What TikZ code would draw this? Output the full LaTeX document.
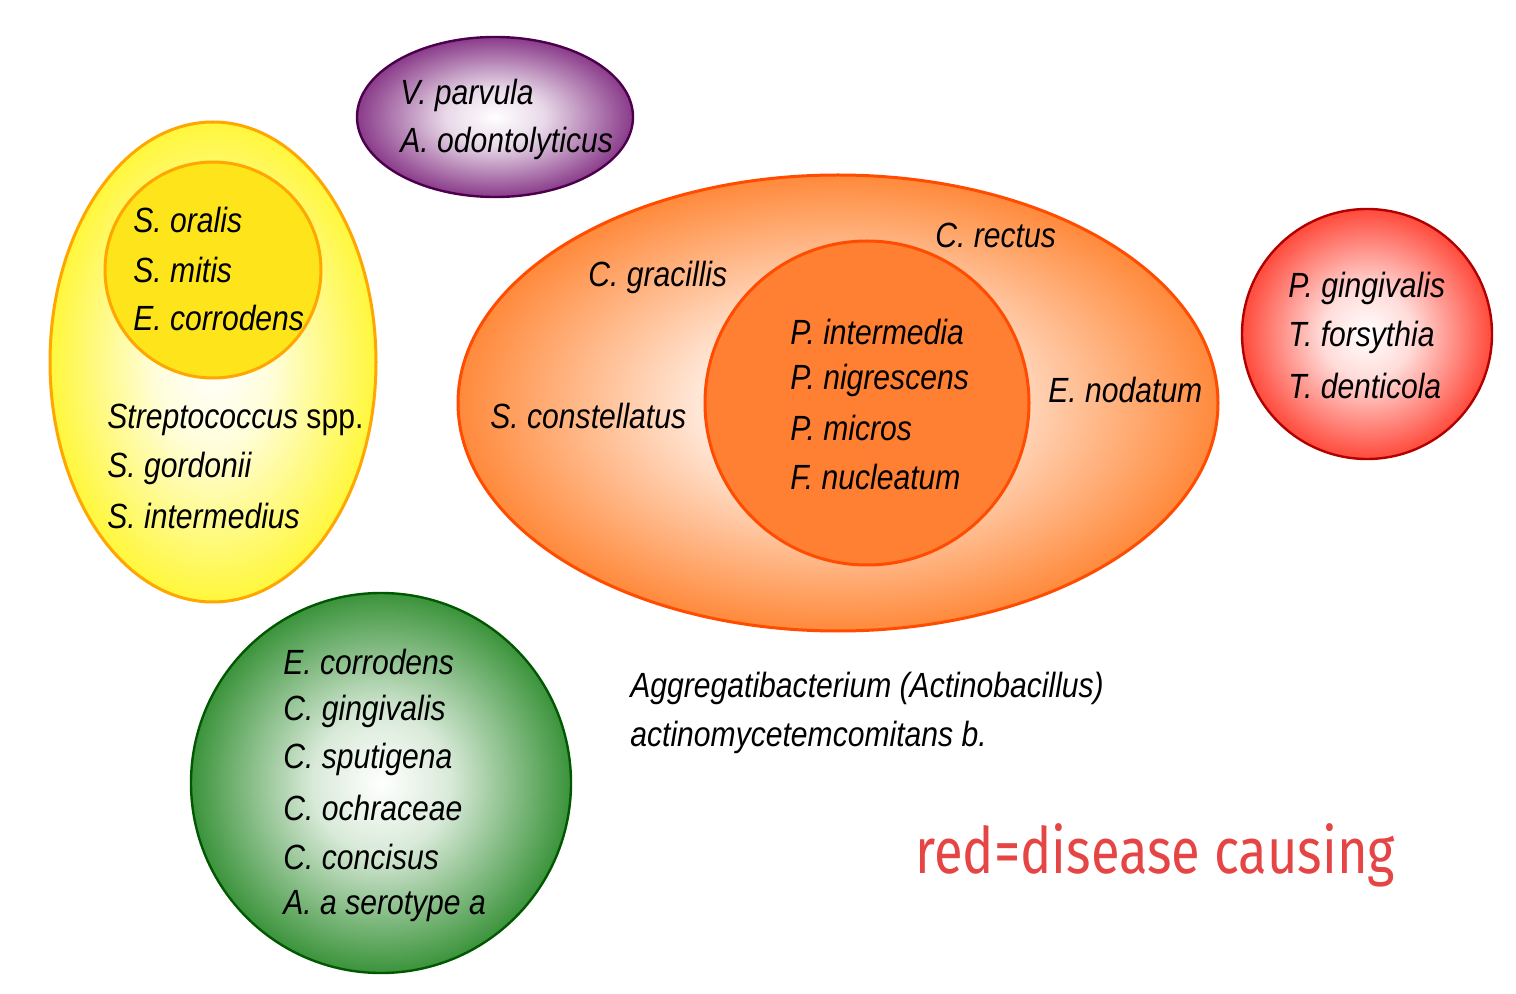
\documentclass[tikz,border=0pt]{standalone}
\usepackage{fontspec}
\setmainfont{Liberation Sans}
\newfontfamily\nar[FakeStretch=0.86]{Liberation Sans}
\newfontfamily\handfont[FakeStretch=0.82]{Fira Sans}
\pgfdeclareradialshading[sc]{soft}{\pgfpoint{0bp}{0bp}}{color(0bp)=(white); color(9bp)=(white!85!sc); color(31bp)=(sc); color(100bp)=(sc)}
\begin{document}
\begin{tikzpicture}[x=0.5pt,y=-0.5pt,
  t/.style={anchor=west,inner sep=0pt,font=\nar\fontsize{17.5}{20}\selectfont\itshape}]
\useasboundingbox (0,0) rectangle (1516,994);
\fill[white] (0,0) rectangle (1516,994);
% purple
\colorlet{sc}{violet!80!black}
\shade[shading=soft] (495,117) ellipse [x radius=138,y radius=80];
\draw[line width=1.2pt,violet!60!black] (495,117) ellipse [x radius=138,y radius=80];
% yellow
\colorlet{sc}{yellow!92!orange}
\shade[shading=soft] (213,362) ellipse [x radius=163,y radius=240];
\draw[line width=1.5pt,orange!70!yellow] (213,362) ellipse [x radius=163,y radius=240];
\fill[yellow!85!orange!90] (213,270) circle [radius=108];
\draw[line width=1.5pt,orange!70!yellow] (213,270) circle [radius=108];
% orange
\colorlet{sc}{orange!80!red}
\shade[shading=soft] (838,403) ellipse [x radius=380,y radius=228];
\draw[line width=1.5pt,orange!60!red] (838,403) ellipse [x radius=380,y radius=228];
\fill[orange!75!red!80] (867,403) circle [radius=162];
\draw[line width=1.5pt,orange!60!red] (867,403) circle [radius=162];
% red
\colorlet{sc}{red!85!orange}
\shade[shading=soft] (1367,334) circle [radius=125];
\draw[line width=1.2pt,red!70!black] (1367,334) circle [radius=125];
% green
\colorlet{sc}{green!45!black}
\shade[shading=soft] (381,783) circle [radius=190];
\draw[line width=1.2pt,green!35!black] (381,783) circle [radius=190];
% texts
\node[t] (p1) at (400,95) {V. parvula};
\node[t] (p2) at (400,143) {A. odontolyticus};
\node[t] (y1) at (133,220) {S. oralis};
\node[t] (y2) at (133,270) {S. mitis};
\node[t] (y3) at (133,318) {E. corrodens};
\node[t] (y4) at (107,420) {Streptococcus {\upshape spp.}};
\node[t] (y5) at (107,468) {S. gordonii};
\node[t] (y6) at (107,516) {S. intermedius};
\node[t] (o1) at (588,277) {C. gracillis};
\node[t] (o2) at (935,235) {C. rectus};
\node[t] (o3) at (490,416) {S. constellatus};
\node[t] (o4) at (1048,390) {E. nodatum};
\node[t] (i1) at (790,332) {P. intermedia};
\node[t] (i2) at (790,380) {P. nigrescens};
\node[t] (i3) at (790,428) {P. micros};
\node[t] (i4) at (790,477) {F. nucleatum};
\node[t] (r1) at (1288,288) {P. gingivalis};
\node[t] (r2) at (1288,337) {T. forsythia};
\node[t] (r3) at (1288,386) {T. denticola};
\node[t] (g1) at (283,662) {E. corrodens};
\node[t] (g2) at (283,711) {C. gingivalis};
\node[t] (g3) at (283,759) {C. sputigena};
\node[t] (g4) at (283,808) {C. ochraceae};
\node[t] (g5) at (283,857) {C. concisus};
\node[t] (g6) at (283,906) {A. a serotype a};
\node[t] (a1) at (630,688) {Aggregatibacterium (Actinobacillus)};
\node[t] (a2) at (630,737) {actinomycetemcomitans b.};
\node[anchor=west,inner sep=0pt,text=red!70!white!90!black,font=\handfont\fontsize{32}{32}\selectfont] (rd) at (915,855) {red=disease causing};
\end{tikzpicture}
\end{document}
